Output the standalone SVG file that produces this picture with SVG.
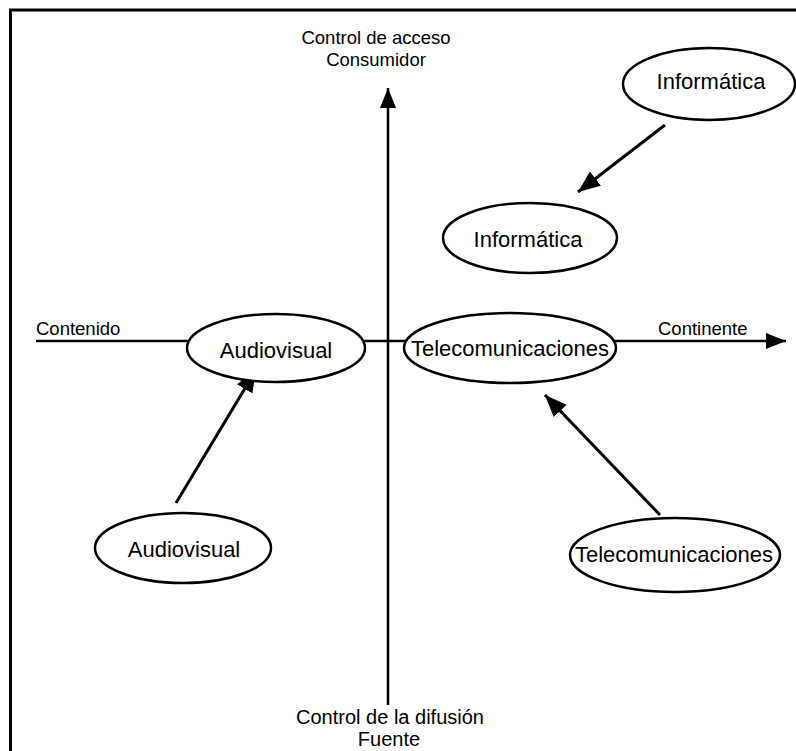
<svg xmlns="http://www.w3.org/2000/svg" width="796" height="751" viewBox="0 0 796 751">
  <defs>
    <marker id="axisArrow" viewBox="0 0 20 16" refX="20" refY="8" markerWidth="20" markerHeight="16" markerUnits="userSpaceOnUse" orient="auto">
      <path d="M0,0 L20,8 L0,16 Z" fill="#000"/>
    </marker>
    <marker id="linkArrow" viewBox="0 0 22 18" refX="22" refY="9" markerWidth="22" markerHeight="18" markerUnits="userSpaceOnUse" orient="auto">
      <path d="M0,0 L22,9 L0,18 Z" fill="#000"/>
    </marker>
  </defs>
  <style>
    text { font-family: "Liberation Sans", Arial, sans-serif; fill: #000; }
    .lbl { font-size: 18.5px; }
    .lbl-b { font-size: 20px; }
    .node ellipse { fill: #fff; stroke: #000; stroke-width: 2.5; }
    .node text { font-size: 22px; text-anchor: middle; }
    .axis { stroke: #000; stroke-width: 2.5; fill: none; }
    .link { stroke: #000; stroke-width: 3; fill: none; }
  </style>

  <rect x="0" y="0" width="796" height="751" fill="#fff"/>
  <!-- outer frame (runs off the right and bottom edges) -->
  <path d="M10.5,760 L10.5,10 L800,10" fill="none" stroke="#000" stroke-width="3"/>

  <!-- axes and links -->
  <g id="connectors">
    <line class="axis" x1="388" y1="705" x2="388" y2="88" marker-end="url(#axisArrow)"/>
    <line class="axis" x1="36" y1="341" x2="786" y2="341" marker-end="url(#axisArrow)"/>
    <line class="link" x1="665" y1="125" x2="578" y2="192" marker-end="url(#linkArrow)"/>
    <line class="link" x1="176" y1="503" x2="256" y2="370" marker-end="url(#linkArrow)"/>
    <line class="link" x1="660" y1="515" x2="545" y2="395" marker-end="url(#linkArrow)"/>
  </g>

  <!-- axis labels -->
  <g id="axis-labels">
    <text class="lbl" x="376" y="44" text-anchor="middle">Control de acceso</text>
    <text class="lbl" x="376" y="66" text-anchor="middle">Consumidor</text>
    <text class="lbl" x="36" y="335">Contenido</text>
    <text class="lbl" x="658" y="335">Continente</text>
    <text class="lbl-b" x="390" y="724" text-anchor="middle">Control de la difusión</text>
    <text class="lbl-b" x="389" y="746" text-anchor="middle">Fuente</text>
  </g>

  <g id="node-audiovisual" class="node">
    <ellipse cx="276" cy="348" rx="89" ry="34"/>
    <text x="276" y="358">Audiovisual</text>
  </g>
  <g id="node-telecom" class="node">
    <ellipse cx="510" cy="348" rx="106" ry="35"/>
    <text x="510" y="356">Telecomunicaciones</text>
  </g>
  <g id="node-informatica-top" class="node">
    <ellipse cx="709" cy="84" rx="86" ry="36"/>
    <text x="711" y="89">Informática</text>
  </g>
  <g id="node-informatica" class="node">
    <ellipse cx="530" cy="238" rx="87" ry="35"/>
    <text x="528" y="247">Informática</text>
  </g>
  <g id="node-audiovisual-bottom" class="node">
    <ellipse cx="183" cy="548" rx="88" ry="35"/>
    <text x="184" y="557">Audiovisual</text>
  </g>
  <g id="node-telecom-bottom" class="node">
    <ellipse cx="675" cy="555" rx="105" ry="37"/>
    <text x="674" y="562">Telecomunicaciones</text>
  </g>
</svg>
